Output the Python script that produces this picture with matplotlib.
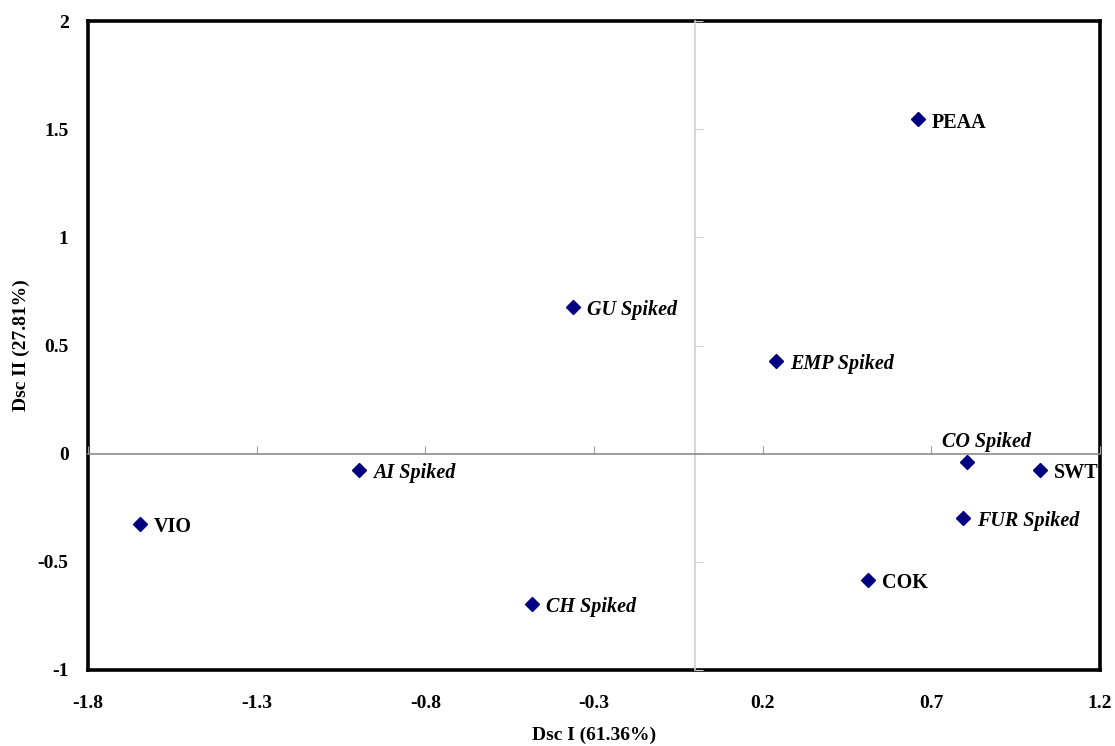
import matplotlib
matplotlib.use('Agg')
import matplotlib.pyplot as plt

# sample labels and discriminant scores
names = ['PEAA', 'GU Spiked', 'EMP Spiked', 'CO Spiked', 'SWT',
         'FUR Spiked', 'COK', 'CH Spiked', 'AI Spiked', 'VIO']
dsc1 = [0.661, -0.362, 0.240, 0.806, 1.023, 0.795, 0.513, -0.483, -0.996, -1.645]
dsc2 = [1.547, 0.678, 0.429, -0.038, -0.075, -0.297, -0.584, -0.695, -0.075, -0.325]

xticks = [-1.8, -1.3, -0.8, -0.3, 0.2, 0.7, 1.2]
yticks = [-1, -0.5, 0, 0.5, 1, 1.5, 2]

plt.rcParams['font.family'] = ['Liberation Serif', 'DejaVu Serif']
plt.rcParams['font.weight'] = 'bold'
plt.rcParams['axes.labelweight'] = 'bold'

fig = plt.figure(figsize=(11.15, 7.46), dpi=100)
rect = [0.0789, 0.1019, 0.9865 - 0.0789, 0.9718 - 0.1019]
ax = fig.add_axes(rect)
ax.set_xlim(-1.8, 1.2)
ax.set_ylim(-1, 2)

# inner axes through the origin
ax2 = fig.add_axes(rect, sharex=ax, sharey=ax)
ax2.patch.set_visible(False)
for s in ['top', 'right']:
    ax2.spines[s].set_visible(False)
ax2.spines['bottom'].set_position(('data', 0))
ax2.spines['left'].set_position(('data', 0))
ax2.spines['bottom'].set_color('#8c8c8c')
ax2.spines['left'].set_color('#cfcfcf')
ax2.spines['bottom'].set_linewidth(1.2)
ax2.spines['left'].set_linewidth(1.2)
ax2.tick_params(axis='x', direction='in', length=6, color='#a0a0a0', labelbottom=False)
ax2.tick_params(axis='y', direction='in', length=6, color='#d0d0d0', labelleft=False)

ax.set_xticks(xticks)
ax.set_yticks(yticks)
ax.set_xticklabels([f'{t:g}' for t in xticks])
ax.set_yticklabels([f'{t:g}' for t in yticks])
ax.tick_params(length=0, labelsize=14)
ax.tick_params(axis='x', pad=18)
ax.tick_params(axis='y', pad=14)
for s in ax.spines.values():
    s.set_linewidth(2.6)

ax.plot(dsc1, dsc2, 'D', color='#000080', markersize=7.5, zorder=5)

for n, x, y in zip(names, dsc1, dsc2):
    style = 'italic' if 'Spiked' in n else 'normal'
    if n == 'CO Spiked':
        ax.annotate(n, (x, y), xytext=(14, 14.5), textcoords='offset points',
                    ha='center', va='center', fontsize=14.5, style=style)
    else:
        ax.annotate(n, (x, y), xytext=(10, -2.5), textcoords='offset points',
                    ha='left', va='center', fontsize=14.5, style=style)

ax.set_xlabel('Dsc I (61.36%)', fontsize=14)
ax.set_ylabel('Dsc II (27.81%)', fontsize=14)
ax.xaxis.set_label_coords(0.5, -0.087)
ax.yaxis.set_label_coords(-0.057, 0.5)

fig.savefig('out.png', dpi=100)
